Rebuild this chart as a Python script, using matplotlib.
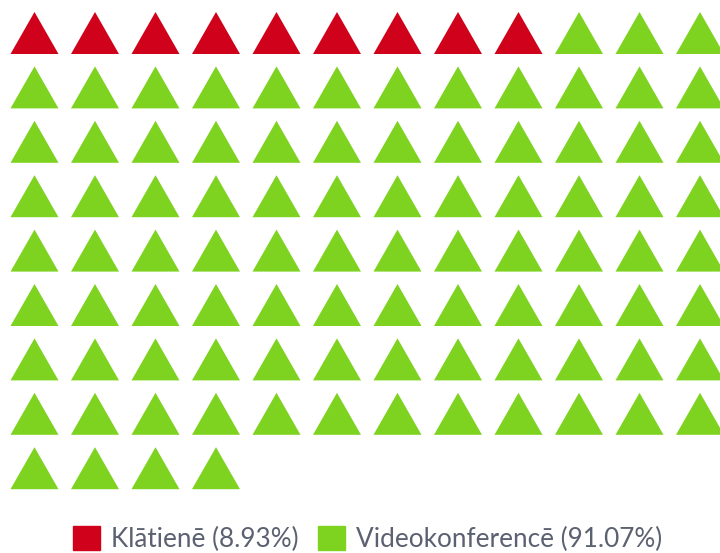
import matplotlib
matplotlib.use("Agg")
import matplotlib.pyplot as plt
from matplotlib.patches import Polygon, Patch

# data
labels = ["Klātienē (8.93%)", "Videokonferencē (91.07%)"]
counts = [9, 91]
colors = ["#D0021B", "#7ED321"]

ncols = 12

fig = plt.figure(figsize=(7.2, 5.53), dpi=100)
ax = fig.add_axes([0, 0, 1, 1])
ax.set_xlim(0, 720)
ax.set_ylim(553, 0)
ax.axis("off")

# triangle icons, filled row by row
x0, dx = 34.5, 60.5
y0, dy = 12, 54.4
w, h = 48, 42
i = 0
for cnt, col in zip(counts, colors):
    for k in range(cnt):
        r, c = divmod(i, ncols)
        cx = x0 + c * dx
        top = y0 + r * dy
        ax.add_patch(Polygon([(cx - w / 2, top + h), (cx, top), (cx + w / 2, top + h)],
                             closed=True, color=col, lw=0))
        i += 1

handles = [Patch(color=c, label=l) for c, l in zip(colors, labels)]
leg = fig.legend(handles=handles, loc="center", bbox_to_anchor=(0.511, 1 - 539 / 553),
                 ncol=2, frameon=False, handlelength=1.0, handleheight=1.0,
                 handletextpad=0.45, columnspacing=0.75, borderpad=0,
                 prop={"family": "Lato", "size": 18.8})
for t in leg.get_texts():
    t.set_color("#5b6170")

fig.savefig("out.png", dpi=100)
